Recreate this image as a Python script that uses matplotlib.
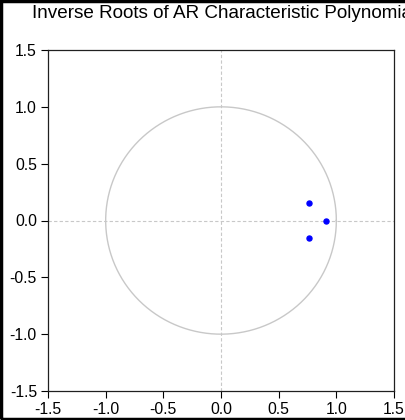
import matplotlib
matplotlib.use('Agg')
import matplotlib.pyplot as plt
from matplotlib.patches import Rectangle
import numpy as np

# inverse roots (real, imaginary)
root_re = [0.767, 0.911, 0.767]
root_im = [0.155, 0.0, -0.155]
ticks = [-1.5, -1.0, -0.5, 0.0, 0.5, 1.0, 1.5]
tick_labels = ['-1.5', '-1.0', '-0.5', '0.0', '0.5', '1.0', '1.5']

plt.rcParams['font.family'] = ['Liberation Sans', 'DejaVu Sans']

fig = plt.figure(figsize=(4.05, 4.2), dpi=100)
ax = fig.add_axes([48 / 405, 1 - 391 / 420, 346 / 405, 341 / 420])

# unit circle
t = np.linspace(0, 2 * np.pi, 400)
ax.plot(np.cos(t), np.sin(t), color='#c8c8c8', lw=1.0, zorder=1)
ax.axhline(0, color='#c8c8c8', lw=0.8, ls=(0, (3, 2)), zorder=1)
ax.axvline(0, color='#c8c8c8', lw=0.8, ls=(0, (3, 2)), zorder=1)

ax.plot(root_re, root_im, 'o', color='#0000ff', ms=3.6, mec='#0000ff', zorder=3)

ax.set_xlim(-1.5, 1.5)
ax.set_ylim(-1.5, 1.5)
ax.set_xticks(ticks)
ax.set_xticklabels(tick_labels)
ax.set_yticks(ticks)
ax.set_yticklabels(tick_labels)
ax.tick_params(direction='out', length=5, width=0.8, labelsize=11.3, pad=3, colors='black')
for s in ax.spines.values():
    s.set_linewidth(0.9)
    s.set_color('#202020')

fig.text(32 / 405, 1 - 14 / 420, 'Inverse Roots of AR Characteristic Polynomial',
         fontsize=13.6, va='center', ha='left')

# outer frame
fig.patches.append(Rectangle((0.003, 0.003), 1.1, 0.994, transform=fig.transFigure,
                             fill=False, lw=2.5, ec='black'))

fig.savefig('out.png', dpi=100)
